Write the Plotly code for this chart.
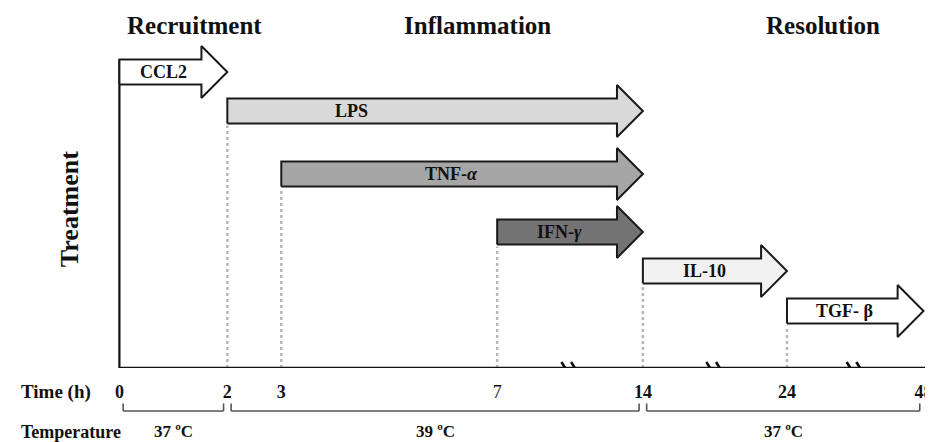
import numpy as np
import plotly.graph_objects as go

# ---------------- data ----------------
phases = ["Recruitment", "Inflammation", "Resolution"]
treatments = ["CCL2", "LPS", "TNF-α", "IFN-γ", "IL-10", "TGF- β"]
treat_labels = ["<b>CCL2</b>", "<b>LPS</b>", "<b>TNF-<i>α</i></b>", "<b>IFN-<i>γ</i></b>",
                "<b>IL-10</b>", "<b>TGF- β</b>"]
start_h = [0, 2, 3, 7, 14, 24]
end_h = [2, 14, 14, 14, 24, 48]
tick_hours = [0, 2, 3, 7, 14, 24, 48]
tick_labels = ["<b>0</b>", "<b>2</b>", "<b>3</b>", "7", "<b>14</b>", "<b>24</b>", "<b>48</b>"]
temp_start_h = [0, 2, 14]
temp_end_h = [2, 14, 48]
temp_labels = ["37 ºC", "39 ºC", "37 ºC"]

# ---------------- styling / scale ----------------
FONT = "Liberation Serif"
fills = ["#ffffff", "#d9d9d9", "#a6a6a6", "#737373", "#f2f2f2", "#ffffff"]
row_level = [296, 257, 194, 136, 97, 57]       # vertical lane of each treatment
BODY_H = 12.5
HEAD_H = 26
HEAD_LEN = 0.48
# broken time axis: piecewise-linear scale
BREAK_HOURS = [0, 7, 14, 24, 48]
BREAK_UNITS = [0, 7, 9.7, 12.37, 14.9]


def T(h):
    return np.interp(h, BREAK_HOURS, BREAK_UNITS)


XMIN, XMAX = -0.1, -0.1 + 819 / 54.5
label_hour_override = {"LPS": 4.3}

fig = go.Figure()

# dotted guide lines at treatment starts
for s, c in zip(start_h, row_level):
    if s == 0:
        continue
    fig.add_trace(go.Scatter(x=[T(s), T(s)], y=[0, c - BODY_H - 2], mode="lines",
                             line=dict(color="#b8b8b8", width=2.5, dash="dot"),
                             hoverinfo="skip", showlegend=False))

# axes lines (y axis up to CCL2 arrow, baseline)
fig.add_trace(go.Scatter(x=[T(0), T(0)], y=[0, row_level[0] + BODY_H], mode="lines",
                         line=dict(color="#111", width=2.2), hoverinfo="skip", showlegend=False))
fig.add_trace(go.Scatter(x=[T(0), XMAX], y=[0, 0], mode="lines",
                         line=dict(color="#111", width=2.5), hoverinfo="skip", showlegend=False))

# axis break marks in the middle of each compressed segment
bx, by = [], []
for a, b in zip(BREAK_UNITS[1:-1], BREAK_UNITS[2:]):
    m = (a + b) / 2
    for off in (-0.09, 0.09):
        bx += [m + off - 0.07, m + off + 0.07, None]
        by += [6, -6, None]
fig.add_trace(go.Scatter(x=bx, y=by, mode="lines", line=dict(color="#111", width=2.6),
                         hoverinfo="skip", showlegend=False))

# arrows
for name, lab, s, e, c, f in zip(treatments, treat_labels, start_h, end_h, row_level, fills):
    xs, xe = T(s), T(e)
    hb = xe - HEAD_LEN
    px = [xs, hb, hb, xe, hb, hb, xs, xs]
    py = [c - BODY_H, c - BODY_H, c - HEAD_H, c, c + HEAD_H, c + BODY_H, c + BODY_H, c - BODY_H]
    fig.add_trace(go.Scatter(x=px, y=py, mode="lines", fill="toself", fillcolor=f,
                             line=dict(color="#1a1a1a", width=2), hoverinfo="skip",
                             showlegend=False))
    lx = T(label_hour_override[name]) if name in label_hour_override else (xs + hb) / 2 + 0.05
    fig.add_annotation(x=lx, y=c, text=lab, showarrow=False, xref="x", yref="y",
                       xanchor="center", yanchor="middle",
                       font=dict(family=FONT, size=18, color="#111"))

# temperature brackets
for s, e, t in zip(temp_start_h, temp_end_h, temp_labels):
    x0, x1 = T(s) + 0.07, T(e) - 0.07
    for (a0, b0, a1, b1) in [(x0, -0.131, x1, -0.131), (x0, -0.131, x0, -0.108),
                             (x1, -0.131, x1, -0.108)]:
        fig.add_shape(type="line", xref="x", yref="paper", x0=a0, y0=b0, x1=a1, y1=b1,
                      line=dict(color="#555", width=1.6))
    fig.add_annotation(x=(x0 + x1) / 2, y=-0.194, xref="x", yref="paper", text="<b>" + t + "</b>",
                       xanchor="center", yanchor="middle",
                       showarrow=False, font=dict(family=FONT, size=17, color="#111"))

# phase titles
for t, xp in zip(phases, [0.099, 0.448, 0.874]):
    fig.add_annotation(x=xp, y=1.043, xref="paper", yref="paper", text="<b>" + t + "</b>",
                       xanchor="center", yanchor="middle",
                       showarrow=False, font=dict(family=FONT, size=25, color="#111"))

fig.add_annotation(x=-0.054, y=0.485, xref="paper", yref="paper", text="<b>Treatment</b>",
                   xanchor="center", yanchor="middle",
                   textangle=-90, showarrow=False, font=dict(family=FONT, size=26, color="#111"))
fig.add_annotation(x=-0.071, y=-0.073, xref="paper", yref="paper", text="<b>Time (h)</b>",
                   xanchor="center", yanchor="middle",
                   showarrow=False, font=dict(family=FONT, size=19, color="#111"))
fig.add_annotation(x=-0.0525, y=-0.194, xref="paper", yref="paper", text="<b>Temperature</b>",
                   xanchor="center", yanchor="middle",
                   showarrow=False, font=dict(family=FONT, size=18, color="#111"))

# page body has an 8px margin, so the figure is sized to fill the visible window
fig.update_layout(
    width=925, height=434,
    margin=dict(l=106, r=0, t=32, b=74),
    paper_bgcolor="white", plot_bgcolor="white",
    xaxis=dict(range=[XMIN, XMAX], tickvals=[T(h) for h in tick_hours], ticktext=tick_labels,
               showgrid=False, zeroline=False, showline=False, ticks="",
               ticklabelstandoff=11, ticklabeloverflow="allow",
               tickfont=dict(family=FONT, size=18, color="#111")),
    yaxis=dict(range=[0, 328], showgrid=False, zeroline=False, showline=False,
               showticklabels=False, ticks=""),
)

fig.write_html("out.html")
